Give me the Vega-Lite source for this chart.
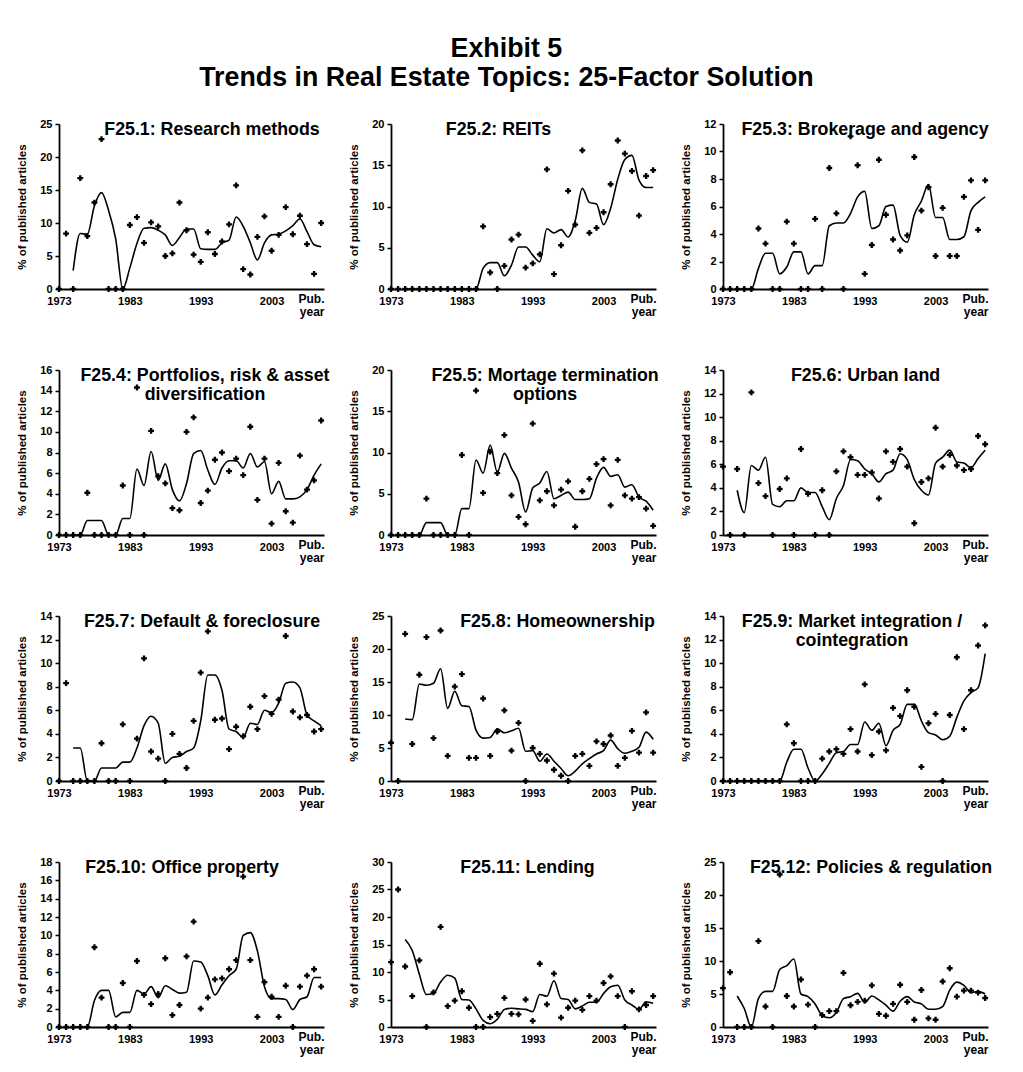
{
"$schema":"https://vega.github.io/schema/vega-lite/v6.json",
"background":"white",
"padding":{"left":16,"top":36,"right":10,"bottom":5},
"title":{"text":["Exhibit 5","Trends in Real Estate Topics: 25-Factor Solution"],"fontSize":26.8,"lineHeight":29,"offset":-1,"baseline":"bottom","anchor":"middle","dx":2},
"columns":3,
"spacing":{"row":81,"column":67},
"bounds":"flush",
"datasets":{"d":[
{"p":1,"yr":1973,"pct":0},{"p":1,"yr":1974,"pct":8.4},{"p":1,"yr":1975,"pct":0,"avg":2.8},{"p":1,"yr":1976,"pct":16.8,"avg":8.4},{"p":1,"yr":1977,"pct":8.0,"avg":8.3},{"p":1,"yr":1978,"pct":13.1,"avg":12.6},{"p":1,"yr":1979,"pct":22.7,"avg":14.6},{"p":1,"yr":1980,"pct":0,"avg":11.9},{"p":1,"yr":1981,"pct":0,"avg":7.6},{"p":1,"yr":1982,"pct":0,"avg":0},{"p":1,"yr":1983,"pct":9.7,"avg":3.2},{"p":1,"yr":1984,"pct":10.9,"avg":6.9},{"p":1,"yr":1985,"pct":7.0,"avg":9.2},{"p":1,"yr":1986,"pct":10.1,"avg":9.3},{"p":1,"yr":1987,"pct":9.5,"avg":8.9},{"p":1,"yr":1988,"pct":5.0,"avg":8.2},{"p":1,"yr":1989,"pct":5.4,"avg":6.6},{"p":1,"yr":1990,"pct":13.1,"avg":7.8},{"p":1,"yr":1991,"pct":8.9,"avg":9.1},{"p":1,"yr":1992,"pct":5.2,"avg":9.1},{"p":1,"yr":1993,"pct":4.1,"avg":6.1},{"p":1,"yr":1994,"pct":8.6,"avg":6.0},{"p":1,"yr":1995,"pct":5.3,"avg":6.0},{"p":1,"yr":1996,"pct":7.2,"avg":7.0},{"p":1,"yr":1997,"pct":9.8,"avg":7.4},{"p":1,"yr":1998,"pct":15.7,"avg":10.9},{"p":1,"yr":1999,"pct":3.0,"avg":9.5},{"p":1,"yr":2000,"pct":2.2,"avg":7.0},{"p":1,"yr":2001,"pct":7.9,"avg":4.4},{"p":1,"yr":2002,"pct":11.0,"avg":7.0},{"p":1,"yr":2003,"pct":5.8,"avg":8.2},{"p":1,"yr":2004,"pct":8.2,"avg":8.3},{"p":1,"yr":2005,"pct":12.4,"avg":8.8},{"p":1,"yr":2006,"pct":8.3,"avg":9.6},{"p":1,"yr":2007,"pct":11.1,"avg":10.6},{"p":1,"yr":2008,"pct":6.8,"avg":8.7},{"p":1,"yr":2009,"pct":2.3,"avg":6.7},{"p":1,"yr":2010,"pct":10.0,"avg":6.4},
{"p":2,"yr":1973,"pct":0},{"p":2,"yr":1974,"pct":0},{"p":2,"yr":1975,"pct":0,"avg":0},{"p":2,"yr":1976,"pct":0,"avg":0},{"p":2,"yr":1977,"pct":0,"avg":0},{"p":2,"yr":1978,"pct":0,"avg":0},{"p":2,"yr":1979,"pct":0,"avg":0},{"p":2,"yr":1980,"pct":0,"avg":0},{"p":2,"yr":1981,"pct":0,"avg":0},{"p":2,"yr":1982,"pct":0,"avg":0},{"p":2,"yr":1983,"pct":0,"avg":0},{"p":2,"yr":1984,"pct":0,"avg":0},{"p":2,"yr":1985,"pct":0,"avg":0},{"p":2,"yr":1986,"pct":7.6,"avg":2.5},{"p":2,"yr":1987,"pct":2.0,"avg":3.2},{"p":2,"yr":1988,"pct":0,"avg":3.2},{"p":2,"yr":1989,"pct":2.8,"avg":1.6},{"p":2,"yr":1990,"pct":6.0,"avg":2.9},{"p":2,"yr":1991,"pct":6.6,"avg":5.1},{"p":2,"yr":1992,"pct":2.6,"avg":5.1},{"p":2,"yr":1993,"pct":3.1,"avg":4.1},{"p":2,"yr":1994,"pct":4.2,"avg":3.3},{"p":2,"yr":1995,"pct":14.5,"avg":7.3},{"p":2,"yr":1996,"pct":1.8,"avg":6.8},{"p":2,"yr":1997,"pct":5.3,"avg":7.2},{"p":2,"yr":1998,"pct":11.9,"avg":6.3},{"p":2,"yr":1999,"pct":7.8,"avg":8.3},{"p":2,"yr":2000,"pct":16.8,"avg":12.2},{"p":2,"yr":2001,"pct":6.8,"avg":10.5},{"p":2,"yr":2002,"pct":7.4,"avg":10.3},{"p":2,"yr":2003,"pct":9.3,"avg":7.8},{"p":2,"yr":2004,"pct":12.7,"avg":9.8},{"p":2,"yr":2005,"pct":18.0,"avg":13.3},{"p":2,"yr":2006,"pct":16.4,"avg":15.7},{"p":2,"yr":2007,"pct":14.3,"avg":16.2},{"p":2,"yr":2008,"pct":8.9,"avg":13.2},{"p":2,"yr":2009,"pct":13.7,"avg":12.3},{"p":2,"yr":2010,"pct":14.4,"avg":12.3},
{"p":3,"yr":1973,"pct":0},{"p":3,"yr":1974,"pct":0},{"p":3,"yr":1975,"pct":0,"avg":0},{"p":3,"yr":1976,"pct":0,"avg":0},{"p":3,"yr":1977,"pct":0,"avg":0},{"p":3,"yr":1978,"pct":4.4,"avg":1.5},{"p":3,"yr":1979,"pct":3.3,"avg":2.6},{"p":3,"yr":1980,"pct":0,"avg":2.6},{"p":3,"yr":1981,"pct":0,"avg":1.1},{"p":3,"yr":1982,"pct":4.9,"avg":1.6},{"p":3,"yr":1983,"pct":3.3,"avg":2.7},{"p":3,"yr":1984,"pct":0,"avg":2.7},{"p":3,"yr":1985,"pct":0,"avg":1.1},{"p":3,"yr":1986,"pct":5.1,"avg":1.7},{"p":3,"yr":1987,"pct":0,"avg":1.7},{"p":3,"yr":1988,"pct":8.8,"avg":4.6},{"p":3,"yr":1989,"pct":5.5,"avg":4.8},{"p":3,"yr":1990,"pct":0,"avg":4.8},{"p":3,"yr":1991,"pct":11.1,"avg":5.5},{"p":3,"yr":1992,"pct":9.0,"avg":6.7},{"p":3,"yr":1993,"pct":1.1,"avg":7.1},{"p":3,"yr":1994,"pct":3.2,"avg":4.4},{"p":3,"yr":1995,"pct":9.4,"avg":4.6},{"p":3,"yr":1996,"pct":5.4,"avg":6.0},{"p":3,"yr":1997,"pct":3.6,"avg":6.1},{"p":3,"yr":1998,"pct":2.8,"avg":3.9},{"p":3,"yr":1999,"pct":3.9,"avg":3.4},{"p":3,"yr":2000,"pct":9.6,"avg":5.4},{"p":3,"yr":2001,"pct":5.7,"avg":6.4},{"p":3,"yr":2002,"pct":7.4,"avg":7.6},{"p":3,"yr":2003,"pct":2.4,"avg":5.2},{"p":3,"yr":2004,"pct":5.9,"avg":5.2},{"p":3,"yr":2005,"pct":2.4,"avg":3.6},{"p":3,"yr":2006,"pct":2.4,"avg":3.6},{"p":3,"yr":2007,"pct":6.7,"avg":3.8},{"p":3,"yr":2008,"pct":7.9,"avg":5.7},{"p":3,"yr":2009,"pct":4.3,"avg":6.3},{"p":3,"yr":2010,"pct":7.9,"avg":6.7},
{"p":4,"yr":1973,"pct":0},{"p":4,"yr":1974,"pct":0},{"p":4,"yr":1975,"pct":0,"avg":0},{"p":4,"yr":1976,"pct":0,"avg":0},{"p":4,"yr":1977,"pct":4.1,"avg":1.4},{"p":4,"yr":1978,"pct":0,"avg":1.4},{"p":4,"yr":1979,"pct":0,"avg":1.4},{"p":4,"yr":1980,"pct":0,"avg":0},{"p":4,"yr":1981,"pct":0,"avg":0},{"p":4,"yr":1982,"pct":4.8,"avg":1.6},{"p":4,"yr":1983,"pct":0,"avg":1.6},{"p":4,"yr":1984,"pct":14.3,"avg":6.4},{"p":4,"yr":1985,"pct":0,"avg":4.8},{"p":4,"yr":1986,"pct":10.1,"avg":8.1},{"p":4,"yr":1987,"pct":5.7,"avg":5.3},{"p":4,"yr":1988,"pct":5.0,"avg":6.9},{"p":4,"yr":1989,"pct":2.6,"avg":4.4},{"p":4,"yr":1990,"pct":2.4,"avg":3.3},{"p":4,"yr":1991,"pct":10.0,"avg":5.0},{"p":4,"yr":1992,"pct":11.4,"avg":7.9},{"p":4,"yr":1993,"pct":3.1,"avg":8.2},{"p":4,"yr":1994,"pct":4.3,"avg":6.3},{"p":4,"yr":1995,"pct":7.3,"avg":4.9},{"p":4,"yr":1996,"pct":8.0,"avg":6.5},{"p":4,"yr":1997,"pct":6.2,"avg":7.2},{"p":4,"yr":1998,"pct":7.4,"avg":7.2},{"p":4,"yr":1999,"pct":5.8,"avg":6.5},{"p":4,"yr":2000,"pct":10.5,"avg":7.9},{"p":4,"yr":2001,"pct":3.4,"avg":6.6},{"p":4,"yr":2002,"pct":7.4,"avg":7.1},{"p":4,"yr":2003,"pct":1.1,"avg":4.0},{"p":4,"yr":2004,"pct":7.0,"avg":5.2},{"p":4,"yr":2005,"pct":2.3,"avg":3.5},{"p":4,"yr":2006,"pct":1.2,"avg":3.5},{"p":4,"yr":2007,"pct":7.7,"avg":3.7},{"p":4,"yr":2008,"pct":4.4,"avg":4.4},{"p":4,"yr":2009,"pct":5.3,"avg":5.8},{"p":4,"yr":2010,"pct":11.1,"avg":6.9},
{"p":5,"yr":1973,"pct":0},{"p":5,"yr":1974,"pct":0},{"p":5,"yr":1975,"pct":0,"avg":0},{"p":5,"yr":1976,"pct":0,"avg":0},{"p":5,"yr":1977,"pct":0,"avg":0},{"p":5,"yr":1978,"pct":4.4,"avg":1.5},{"p":5,"yr":1979,"pct":0,"avg":1.5},{"p":5,"yr":1980,"pct":0,"avg":1.5},{"p":5,"yr":1981,"pct":0,"avg":0},{"p":5,"yr":1982,"pct":0,"avg":0},{"p":5,"yr":1983,"pct":9.7,"avg":3.2},{"p":5,"yr":1984,"pct":0,"avg":3.2},{"p":5,"yr":1985,"pct":17.5,"avg":9.1},{"p":5,"yr":1986,"pct":5.1,"avg":7.5},{"p":5,"yr":1987,"pct":10.1,"avg":10.9},{"p":5,"yr":1988,"pct":7.5,"avg":7.6},{"p":5,"yr":1989,"pct":12.1,"avg":9.9},{"p":5,"yr":1990,"pct":4.8,"avg":8.1},{"p":5,"yr":1991,"pct":2.2,"avg":6.4},{"p":5,"yr":1992,"pct":1.3,"avg":2.8},{"p":5,"yr":1993,"pct":13.5,"avg":5.7},{"p":5,"yr":1994,"pct":4.2,"avg":6.3},{"p":5,"yr":1995,"pct":5.3,"avg":7.7},{"p":5,"yr":1996,"pct":3.6,"avg":4.4},{"p":5,"yr":1997,"pct":5.5,"avg":4.8},{"p":5,"yr":1998,"pct":6.5,"avg":5.2},{"p":5,"yr":1999,"pct":1.0,"avg":4.3},{"p":5,"yr":2000,"pct":5.3,"avg":4.3},{"p":5,"yr":2001,"pct":6.8,"avg":4.4},{"p":5,"yr":2002,"pct":8.6,"avg":6.9},{"p":5,"yr":2003,"pct":9.2,"avg":8.2},{"p":5,"yr":2004,"pct":3.6,"avg":7.1},{"p":5,"yr":2005,"pct":9.1,"avg":7.3},{"p":5,"yr":2006,"pct":4.8,"avg":5.8},{"p":5,"yr":2007,"pct":4.4,"avg":6.1},{"p":5,"yr":2008,"pct":4.6,"avg":4.6},{"p":5,"yr":2009,"pct":3.2,"avg":4.1},{"p":5,"yr":2010,"pct":1.1,"avg":3.0},
{"p":6,"yr":1973,"pct":5.8},{"p":6,"yr":1974,"pct":0},{"p":6,"yr":1975,"pct":5.6,"avg":3.8},{"p":6,"yr":1976,"pct":0,"avg":1.9},{"p":6,"yr":1977,"pct":12.1,"avg":5.9},{"p":6,"yr":1978,"pct":4.4,"avg":5.5},{"p":6,"yr":1979,"pct":3.3,"avg":6.6},{"p":6,"yr":1980,"pct":0,"avg":2.6},{"p":6,"yr":1981,"pct":3.9,"avg":2.4},{"p":6,"yr":1982,"pct":4.8,"avg":2.9},{"p":6,"yr":1983,"pct":0,"avg":2.9},{"p":6,"yr":1984,"pct":7.3,"avg":4.0},{"p":6,"yr":1985,"pct":3.5,"avg":3.6},{"p":6,"yr":1986,"pct":0,"avg":3.6},{"p":6,"yr":1987,"pct":3.8,"avg":2.4},{"p":6,"yr":1988,"pct":0,"avg":1.3},{"p":6,"yr":1989,"pct":5.4,"avg":3.1},{"p":6,"yr":1990,"pct":7.1,"avg":4.2},{"p":6,"yr":1991,"pct":6.6,"avg":6.4},{"p":6,"yr":1992,"pct":5.1,"avg":6.3},{"p":6,"yr":1993,"pct":5.1,"avg":5.6},{"p":6,"yr":1994,"pct":5.3,"avg":5.2},{"p":6,"yr":1995,"pct":3.1,"avg":4.5},{"p":6,"yr":1996,"pct":7.1,"avg":5.2},{"p":6,"yr":1997,"pct":6.2,"avg":5.5},{"p":6,"yr":1998,"pct":7.3,"avg":6.9},{"p":6,"yr":1999,"pct":5.8,"avg":6.4},{"p":6,"yr":2000,"pct":1.0,"avg":4.7},{"p":6,"yr":2001,"pct":4.5,"avg":3.8},{"p":6,"yr":2002,"pct":4.8,"avg":3.4},{"p":6,"yr":2003,"pct":9.1,"avg":6.1},{"p":6,"yr":2004,"pct":5.8,"avg":6.6},{"p":6,"yr":2005,"pct":6.8,"avg":7.2},{"p":6,"yr":2006,"pct":5.9,"avg":6.2},{"p":6,"yr":2007,"pct":5.5,"avg":6.1},{"p":6,"yr":2008,"pct":5.6,"avg":5.7},{"p":6,"yr":2009,"pct":8.4,"avg":6.5},{"p":6,"yr":2010,"pct":7.7,"avg":7.2},
{"p":7,"yr":1973,"pct":0},{"p":7,"yr":1974,"pct":8.3},{"p":7,"yr":1975,"pct":0,"avg":2.8},{"p":7,"yr":1976,"pct":0,"avg":2.8},{"p":7,"yr":1977,"pct":0,"avg":0},{"p":7,"yr":1978,"pct":0,"avg":0},{"p":7,"yr":1979,"pct":3.2,"avg":1.1},{"p":7,"yr":1980,"pct":0,"avg":1.1},{"p":7,"yr":1981,"pct":0,"avg":1.1},{"p":7,"yr":1982,"pct":4.8,"avg":1.6},{"p":7,"yr":1983,"pct":0,"avg":1.6},{"p":7,"yr":1984,"pct":3.6,"avg":2.8},{"p":7,"yr":1985,"pct":10.4,"avg":4.7},{"p":7,"yr":1986,"pct":2.5,"avg":5.5},{"p":7,"yr":1987,"pct":1.9,"avg":4.9},{"p":7,"yr":1988,"pct":0,"avg":1.5},{"p":7,"yr":1989,"pct":4.0,"avg":2.0},{"p":7,"yr":1990,"pct":2.3,"avg":2.1},{"p":7,"yr":1991,"pct":1.1,"avg":2.5},{"p":7,"yr":1992,"pct":5.1,"avg":2.8},{"p":7,"yr":1993,"pct":9.2,"avg":5.1},{"p":7,"yr":1994,"pct":12.7,"avg":9.0},{"p":7,"yr":1995,"pct":5.2,"avg":9.0},{"p":7,"yr":1996,"pct":5.3,"avg":7.7},{"p":7,"yr":1997,"pct":2.7,"avg":4.4},{"p":7,"yr":1998,"pct":4.6,"avg":4.2},{"p":7,"yr":1999,"pct":3.8,"avg":3.7},{"p":7,"yr":2000,"pct":6.3,"avg":4.9},{"p":7,"yr":2001,"pct":4.4,"avg":4.8},{"p":7,"yr":2002,"pct":7.2,"avg":6.0},{"p":7,"yr":2003,"pct":5.7,"avg":5.8},{"p":7,"yr":2004,"pct":6.9,"avg":6.6},{"p":7,"yr":2005,"pct":12.3,"avg":8.3},{"p":7,"yr":2006,"pct":5.9,"avg":8.4},{"p":7,"yr":2007,"pct":5.4,"avg":7.9},{"p":7,"yr":2008,"pct":5.6,"avg":5.6},{"p":7,"yr":2009,"pct":4.2,"avg":5.1},{"p":7,"yr":2010,"pct":4.4,"avg":4.7},
{"p":8,"yr":1973,"pct":5.8},{"p":8,"yr":1974,"pct":0},{"p":8,"yr":1975,"pct":22.3,"avg":9.4},{"p":8,"yr":1976,"pct":5.6,"avg":9.3},{"p":8,"yr":1977,"pct":16.1,"avg":14.7},{"p":8,"yr":1978,"pct":21.8,"avg":14.5},{"p":8,"yr":1979,"pct":6.5,"avg":14.8},{"p":8,"yr":1980,"pct":22.8,"avg":17.0},{"p":8,"yr":1981,"pct":3.8,"avg":11.0},{"p":8,"yr":1982,"pct":14.3,"avg":13.6},{"p":8,"yr":1983,"pct":16.2,"avg":11.4},{"p":8,"yr":1984,"pct":3.5,"avg":11.3},{"p":8,"yr":1985,"pct":3.5,"avg":7.7},{"p":8,"yr":1986,"pct":12.5,"avg":6.5},{"p":8,"yr":1987,"pct":3.8,"avg":6.6},{"p":8,"yr":1988,"pct":7.5,"avg":7.9},{"p":8,"yr":1989,"pct":10.7,"avg":7.3},{"p":8,"yr":1990,"pct":4.6,"avg":7.6},{"p":8,"yr":1991,"pct":8.8,"avg":8.0},{"p":8,"yr":1992,"pct":0,"avg":4.5},{"p":8,"yr":1993,"pct":5.0,"avg":4.6},{"p":8,"yr":1994,"pct":4.1,"avg":3.0},{"p":8,"yr":1995,"pct":3.1,"avg":4.1},{"p":8,"yr":1996,"pct":1.7,"avg":3.0},{"p":8,"yr":1997,"pct":0.8,"avg":1.9},{"p":8,"yr":1998,"pct":0,"avg":0.8},{"p":8,"yr":1999,"pct":3.8,"avg":1.5},{"p":8,"yr":2000,"pct":4.1,"avg":2.6},{"p":8,"yr":2001,"pct":2.3,"avg":3.4},{"p":8,"yr":2002,"pct":6.0,"avg":4.1},{"p":8,"yr":2003,"pct":5.6,"avg":4.6},{"p":8,"yr":2004,"pct":6.9,"avg":6.2},{"p":8,"yr":2005,"pct":2.3,"avg":4.9},{"p":8,"yr":2006,"pct":3.5,"avg":4.2},{"p":8,"yr":2007,"pct":7.6,"avg":4.5},{"p":8,"yr":2008,"pct":4.3,"avg":5.1},{"p":8,"yr":2009,"pct":10.4,"avg":7.4},{"p":8,"yr":2010,"pct":4.3,"avg":6.3},
{"p":9,"yr":1973,"pct":0},{"p":9,"yr":1974,"pct":0},{"p":9,"yr":1975,"pct":0,"avg":0},{"p":9,"yr":1976,"pct":0,"avg":0},{"p":9,"yr":1977,"pct":0,"avg":0},{"p":9,"yr":1978,"pct":0,"avg":0},{"p":9,"yr":1979,"pct":0,"avg":0},{"p":9,"yr":1980,"pct":0,"avg":0},{"p":9,"yr":1981,"pct":0,"avg":0},{"p":9,"yr":1982,"pct":4.8,"avg":1.6},{"p":9,"yr":1983,"pct":3.2,"avg":2.7},{"p":9,"yr":1984,"pct":0,"avg":2.7},{"p":9,"yr":1985,"pct":0,"avg":1.1},{"p":9,"yr":1986,"pct":0,"avg":0},{"p":9,"yr":1987,"pct":1.9,"avg":0.6},{"p":9,"yr":1988,"pct":2.5,"avg":1.5},{"p":9,"yr":1989,"pct":2.7,"avg":2.4},{"p":9,"yr":1990,"pct":2.3,"avg":2.5},{"p":9,"yr":1991,"pct":4.4,"avg":3.1},{"p":9,"yr":1992,"pct":2.5,"avg":3.1},{"p":9,"yr":1993,"pct":8.2,"avg":5.0},{"p":9,"yr":1994,"pct":2.2,"avg":4.3},{"p":9,"yr":1995,"pct":4.2,"avg":4.9},{"p":9,"yr":1996,"pct":2.6,"avg":3.0},{"p":9,"yr":1997,"pct":6.2,"avg":4.3},{"p":9,"yr":1998,"pct":5.5,"avg":4.8},{"p":9,"yr":1999,"pct":7.7,"avg":6.5},{"p":9,"yr":2000,"pct":6.3,"avg":6.5},{"p":9,"yr":2001,"pct":1.2,"avg":5.1},{"p":9,"yr":2002,"pct":4.9,"avg":4.1},{"p":9,"yr":2003,"pct":5.7,"avg":3.9},{"p":9,"yr":2004,"pct":0,"avg":3.5},{"p":9,"yr":2005,"pct":5.6,"avg":3.8},{"p":9,"yr":2006,"pct":10.5,"avg":5.4},{"p":9,"yr":2007,"pct":4.4,"avg":6.8},{"p":9,"yr":2008,"pct":7.7,"avg":7.5},{"p":9,"yr":2009,"pct":11.5,"avg":7.9},{"p":9,"yr":2010,"pct":13.2,"avg":10.8},
{"p":10,"yr":1973,"pct":0},{"p":10,"yr":1974,"pct":0},{"p":10,"yr":1975,"pct":0,"avg":0},{"p":10,"yr":1976,"pct":0,"avg":0},{"p":10,"yr":1977,"pct":0,"avg":0},{"p":10,"yr":1978,"pct":8.7,"avg":2.9},{"p":10,"yr":1979,"pct":3.2,"avg":4.0},{"p":10,"yr":1980,"pct":0,"avg":4.0},{"p":10,"yr":1981,"pct":0,"avg":1.1},{"p":10,"yr":1982,"pct":4.8,"avg":1.6},{"p":10,"yr":1983,"pct":0,"avg":1.6},{"p":10,"yr":1984,"pct":7.2,"avg":4.0},{"p":10,"yr":1985,"pct":3.5,"avg":3.6},{"p":10,"yr":1986,"pct":2.5,"avg":4.4},{"p":10,"yr":1987,"pct":3.6,"avg":3.2},{"p":10,"yr":1988,"pct":7.5,"avg":4.5},{"p":10,"yr":1989,"pct":1.3,"avg":4.1},{"p":10,"yr":1990,"pct":2.4,"avg":3.7},{"p":10,"yr":1991,"pct":7.7,"avg":3.8},{"p":10,"yr":1992,"pct":11.5,"avg":7.2},{"p":10,"yr":1993,"pct":2.0,"avg":7.1},{"p":10,"yr":1994,"pct":3.2,"avg":5.6},{"p":10,"yr":1995,"pct":5.2,"avg":3.5},{"p":10,"yr":1996,"pct":5.3,"avg":4.6},{"p":10,"yr":1997,"pct":6.3,"avg":5.6},{"p":10,"yr":1998,"pct":7.3,"avg":6.3},{"p":10,"yr":1999,"pct":16.4,"avg":10.0},{"p":10,"yr":2000,"pct":7.3,"avg":10.3},{"p":10,"yr":2001,"pct":1.1,"avg":8.3},{"p":10,"yr":2002,"pct":4.9,"avg":4.4},{"p":10,"yr":2003,"pct":3.3,"avg":3.1},{"p":10,"yr":2004,"pct":1.1,"avg":3.1},{"p":10,"yr":2005,"pct":4.5,"avg":3.0},{"p":10,"yr":2006,"pct":0,"avg":1.9},{"p":10,"yr":2007,"pct":4.4,"avg":3.0},{"p":10,"yr":2008,"pct":5.6,"avg":3.3},{"p":10,"yr":2009,"pct":6.3,"avg":5.4},{"p":10,"yr":2010,"pct":4.4,"avg":5.4},
{"p":11,"yr":1973,"pct":11.8},{"p":11,"yr":1974,"pct":25.0},{"p":11,"yr":1975,"pct":11.0,"avg":15.9},{"p":11,"yr":1976,"pct":5.6,"avg":13.9},{"p":11,"yr":1977,"pct":12.1,"avg":9.6},{"p":11,"yr":1978,"pct":0,"avg":5.9},{"p":11,"yr":1979,"pct":6.3,"avg":6.1},{"p":11,"yr":1980,"pct":18.2,"avg":8.2},{"p":11,"yr":1981,"pct":3.8,"avg":9.4},{"p":11,"yr":1982,"pct":4.8,"avg":8.9},{"p":11,"yr":1983,"pct":6.5,"avg":5.0},{"p":11,"yr":1984,"pct":3.5,"avg":4.9},{"p":11,"yr":1985,"pct":0,"avg":3.3},{"p":11,"yr":1986,"pct":0,"avg":1.2},{"p":11,"yr":1987,"pct":1.8,"avg":0.6},{"p":11,"yr":1988,"pct":2.4,"avg":1.4},{"p":11,"yr":1989,"pct":5.3,"avg":3.2},{"p":11,"yr":1990,"pct":2.4,"avg":3.4},{"p":11,"yr":1991,"pct":2.3,"avg":3.3},{"p":11,"yr":1992,"pct":5.0,"avg":3.2},{"p":11,"yr":1993,"pct":1.1,"avg":2.8},{"p":11,"yr":1994,"pct":11.5,"avg":5.9},{"p":11,"yr":1995,"pct":4.1,"avg":5.6},{"p":11,"yr":1996,"pct":9.7,"avg":8.4},{"p":11,"yr":1997,"pct":1.7,"avg":5.2},{"p":11,"yr":1998,"pct":3.5,"avg":5.0},{"p":11,"yr":1999,"pct":4.8,"avg":3.3},{"p":11,"yr":2000,"pct":3.1,"avg":3.8},{"p":11,"yr":2001,"pct":5.6,"avg":4.5},{"p":11,"yr":2002,"pct":4.8,"avg":4.5},{"p":11,"yr":2003,"pct":8.0,"avg":6.1},{"p":11,"yr":2004,"pct":9.2,"avg":7.3},{"p":11,"yr":2005,"pct":5.6,"avg":7.6},{"p":11,"yr":2006,"pct":0,"avg":4.9},{"p":11,"yr":2007,"pct":6.5,"avg":4.0},{"p":11,"yr":2008,"pct":3.2,"avg":3.2},{"p":11,"yr":2009,"pct":4.0,"avg":4.6},{"p":11,"yr":2010,"pct":5.6,"avg":4.3},
{"p":12,"yr":1973,"pct":5.9},{"p":12,"yr":1974,"pct":8.3},{"p":12,"yr":1975,"pct":0,"avg":4.7},{"p":12,"yr":1976,"pct":0,"avg":2.8},{"p":12,"yr":1977,"pct":0,"avg":0},{"p":12,"yr":1978,"pct":13.0,"avg":4.3},{"p":12,"yr":1979,"pct":3.1,"avg":5.4},{"p":12,"yr":1980,"pct":0,"avg":5.4},{"p":12,"yr":1981,"pct":23.1,"avg":8.7},{"p":12,"yr":1982,"pct":4.7,"avg":9.3},{"p":12,"yr":1983,"pct":3.1,"avg":10.3},{"p":12,"yr":1984,"pct":7.2,"avg":5.0},{"p":12,"yr":1985,"pct":3.4,"avg":4.6},{"p":12,"yr":1986,"pct":0,"avg":3.5},{"p":12,"yr":1987,"pct":1.8,"avg":1.7},{"p":12,"yr":1988,"pct":2.4,"avg":1.4},{"p":12,"yr":1989,"pct":2.4,"avg":2.2},{"p":12,"yr":1990,"pct":8.2,"avg":4.3},{"p":12,"yr":1991,"pct":3.3,"avg":4.6},{"p":12,"yr":1992,"pct":3.8,"avg":5.1},{"p":12,"yr":1993,"pct":4.0,"avg":3.7},{"p":12,"yr":1994,"pct":6.3,"avg":4.7},{"p":12,"yr":1995,"pct":2.0,"avg":4.1},{"p":12,"yr":1996,"pct":1.7,"avg":3.3},{"p":12,"yr":1997,"pct":3.5,"avg":2.4},{"p":12,"yr":1998,"pct":6.4,"avg":3.9},{"p":12,"yr":1999,"pct":3.8,"avg":4.6},{"p":12,"yr":2000,"pct":1.1,"avg":3.8},{"p":12,"yr":2001,"pct":5.6,"avg":3.5},{"p":12,"yr":2002,"pct":1.3,"avg":2.7},{"p":12,"yr":2003,"pct":1.1,"avg":2.7},{"p":12,"yr":2004,"pct":6.9,"avg":3.1},{"p":12,"yr":2005,"pct":8.9,"avg":5.6},{"p":12,"yr":2006,"pct":4.6,"avg":6.8},{"p":12,"yr":2007,"pct":5.5,"avg":6.3},{"p":12,"yr":2008,"pct":5.5,"avg":5.2},{"p":12,"yr":2009,"pct":5.2,"avg":5.4},{"p":12,"yr":2010,"pct":4.4,"avg":5.0}
]},
"concat":[
{"title":{"text":"F25.1: Research methods","dx":20.5},"width":265,"height":165,"data":{"name":"d"},"transform":[{"filter":"datum.p==1"}],
 "encoding":{"x":{"field":"yr","type":"quantitative","scale":{"domain":[1973,2010.4]},"title":["Pub.","year"],"axis":{"values":[1973,1983,1993,2003],"format":"d"}}},
 "layer":[
  {"mark":{"type":"point","shape":"cross","filled":true,"size":34,"color":"#000","opacity":1},"encoding":{"y":{"field":"pct","type":"quantitative","title":"% of published articles","scale":{"domain":[0,25],"nice":false},"axis":{"values":[0,5,10,15,20,25]}}}},
  {"mark":{"type":"line","color":"#000","strokeWidth":1.6,"interpolate":"monotone"},"transform":[{"filter":"isValid(datum.avg)"}],"encoding":{"y":{"field":"avg","type":"quantitative","title":"% of published articles","scale":{"domain":[0,25],"nice":false},"axis":{"values":[0,5,10,15,20,25]}}}}]},
{"title":{"text":"F25.2: REITs","dx":-25},"width":265,"height":165,"data":{"name":"d"},"transform":[{"filter":"datum.p==2"}],
 "encoding":{"x":{"field":"yr","type":"quantitative","scale":{"domain":[1973,2010.4]},"title":["Pub.","year"],"axis":{"values":[1973,1983,1993,2003],"format":"d"}}},
 "layer":[
  {"mark":{"type":"point","shape":"cross","filled":true,"size":34,"color":"#000","opacity":1},"encoding":{"y":{"field":"pct","type":"quantitative","title":"% of published articles","scale":{"domain":[0,20],"nice":false},"axis":{"values":[0,5,10,15,20]}}}},
  {"mark":{"type":"line","color":"#000","strokeWidth":1.6,"interpolate":"monotone"},"transform":[{"filter":"isValid(datum.avg)"}],"encoding":{"y":{"field":"avg","type":"quantitative","title":"% of published articles","scale":{"domain":[0,20],"nice":false},"axis":{"values":[0,5,10,15,20]}}}}]},
{"title":{"text":"F25.3: Brokerage and agency","dx":9.5},"width":265,"height":165,"data":{"name":"d"},"transform":[{"filter":"datum.p==3"}],
 "encoding":{"x":{"field":"yr","type":"quantitative","scale":{"domain":[1973,2010.4]},"title":["Pub.","year"],"axis":{"values":[1973,1983,1993,2003],"format":"d"}}},
 "layer":[
  {"mark":{"type":"point","shape":"cross","filled":true,"size":34,"color":"#000","opacity":1},"encoding":{"y":{"field":"pct","type":"quantitative","title":"% of published articles","scale":{"domain":[0,12],"nice":false},"axis":{"values":[0,2,4,6,8,10,12]}}}},
  {"mark":{"type":"line","color":"#000","strokeWidth":1.6,"interpolate":"monotone"},"transform":[{"filter":"isValid(datum.avg)"}],"encoding":{"y":{"field":"avg","type":"quantitative","title":"% of published articles","scale":{"domain":[0,12],"nice":false},"axis":{"values":[0,2,4,6,8,10,12]}}}}]},
{"title":{"text":["F25.4: Portfolios, risk & asset","diversification"],"dx":13.5,"dy":18.5},"width":265,"height":165,"data":{"name":"d"},"transform":[{"filter":"datum.p==4"}],
 "encoding":{"x":{"field":"yr","type":"quantitative","scale":{"domain":[1973,2010.4]},"title":["Pub.","year"],"axis":{"values":[1973,1983,1993,2003],"format":"d"}}},
 "layer":[
  {"mark":{"type":"point","shape":"cross","filled":true,"size":34,"color":"#000","opacity":1},"encoding":{"y":{"field":"pct","type":"quantitative","title":"% of published articles","scale":{"domain":[0,16],"nice":false},"axis":{"values":[0,2,4,6,8,10,12,14,16]}}}},
  {"mark":{"type":"line","color":"#000","strokeWidth":1.6,"interpolate":"monotone"},"transform":[{"filter":"isValid(datum.avg)"}],"encoding":{"y":{"field":"avg","type":"quantitative","title":"% of published articles","scale":{"domain":[0,16],"nice":false},"axis":{"values":[0,2,4,6,8,10,12,14,16]}}}}]},
{"title":{"text":["F25.5: Mortage termination","options"],"dx":21.5,"dy":18.5},"width":265,"height":165,"data":{"name":"d"},"transform":[{"filter":"datum.p==5"}],
 "encoding":{"x":{"field":"yr","type":"quantitative","scale":{"domain":[1973,2010.4]},"title":["Pub.","year"],"axis":{"values":[1973,1983,1993,2003],"format":"d"}}},
 "layer":[
  {"mark":{"type":"point","shape":"cross","filled":true,"size":34,"color":"#000","opacity":1},"encoding":{"y":{"field":"pct","type":"quantitative","title":"% of published articles","scale":{"domain":[0,20],"nice":false},"axis":{"values":[0,5,10,15,20]}}}},
  {"mark":{"type":"line","color":"#000","strokeWidth":1.6,"interpolate":"monotone"},"transform":[{"filter":"isValid(datum.avg)"}],"encoding":{"y":{"field":"avg","type":"quantitative","title":"% of published articles","scale":{"domain":[0,20],"nice":false},"axis":{"values":[0,5,10,15,20]}}}}]},
{"title":{"text":"F25.6: Urban land","dx":10},"width":265,"height":165,"data":{"name":"d"},"transform":[{"filter":"datum.p==6"}],
 "encoding":{"x":{"field":"yr","type":"quantitative","scale":{"domain":[1973,2010.4]},"title":["Pub.","year"],"axis":{"values":[1973,1983,1993,2003],"format":"d"}}},
 "layer":[
  {"mark":{"type":"point","shape":"cross","filled":true,"size":34,"color":"#000","opacity":1},"encoding":{"y":{"field":"pct","type":"quantitative","title":"% of published articles","scale":{"domain":[0,14],"nice":false},"axis":{"values":[0,2,4,6,8,10,12,14]}}}},
  {"mark":{"type":"line","color":"#000","strokeWidth":1.6,"interpolate":"monotone"},"transform":[{"filter":"isValid(datum.avg)"}],"encoding":{"y":{"field":"avg","type":"quantitative","title":"% of published articles","scale":{"domain":[0,14],"nice":false},"axis":{"values":[0,2,4,6,8,10,12,14]}}}}]},
{"title":{"text":"F25.7: Default & foreclosure","dx":10.5},"width":265,"height":165,"data":{"name":"d"},"transform":[{"filter":"datum.p==7"}],
 "encoding":{"x":{"field":"yr","type":"quantitative","scale":{"domain":[1973,2010.4]},"title":["Pub.","year"],"axis":{"values":[1973,1983,1993,2003],"format":"d"}}},
 "layer":[
  {"mark":{"type":"point","shape":"cross","filled":true,"size":34,"color":"#000","opacity":1},"encoding":{"y":{"field":"pct","type":"quantitative","title":"% of published articles","scale":{"domain":[0,14],"nice":false},"axis":{"values":[0,2,4,6,8,10,12,14]}}}},
  {"mark":{"type":"line","color":"#000","strokeWidth":1.6,"interpolate":"monotone"},"transform":[{"filter":"isValid(datum.avg)"}],"encoding":{"y":{"field":"avg","type":"quantitative","title":"% of published articles","scale":{"domain":[0,14],"nice":false},"axis":{"values":[0,2,4,6,8,10,12,14]}}}}]},
{"title":{"text":"F25.8: Homeownership","dx":34},"width":265,"height":165,"data":{"name":"d"},"transform":[{"filter":"datum.p==8"}],
 "encoding":{"x":{"field":"yr","type":"quantitative","scale":{"domain":[1973,2010.4]},"title":["Pub.","year"],"axis":{"values":[1973,1983,1993,2003],"format":"d"}}},
 "layer":[
  {"mark":{"type":"point","shape":"cross","filled":true,"size":34,"color":"#000","opacity":1},"encoding":{"y":{"field":"pct","type":"quantitative","title":"% of published articles","scale":{"domain":[0,25],"nice":false},"axis":{"values":[0,5,10,15,20,25]}}}},
  {"mark":{"type":"line","color":"#000","strokeWidth":1.6,"interpolate":"monotone"},"transform":[{"filter":"isValid(datum.avg)"}],"encoding":{"y":{"field":"avg","type":"quantitative","title":"% of published articles","scale":{"domain":[0,25],"nice":false},"axis":{"values":[0,5,10,15,20,25]}}}}]},
{"title":{"text":["F25.9: Market integration /","cointegration"],"dx":-3.5,"dy":18.5},"width":265,"height":165,"data":{"name":"d"},"transform":[{"filter":"datum.p==9"}],
 "encoding":{"x":{"field":"yr","type":"quantitative","scale":{"domain":[1973,2010.4]},"title":["Pub.","year"],"axis":{"values":[1973,1983,1993,2003],"format":"d"}}},
 "layer":[
  {"mark":{"type":"point","shape":"cross","filled":true,"size":34,"color":"#000","opacity":1},"encoding":{"y":{"field":"pct","type":"quantitative","title":"% of published articles","scale":{"domain":[0,14],"nice":false},"axis":{"values":[0,2,4,6,8,10,12,14]}}}},
  {"mark":{"type":"line","color":"#000","strokeWidth":1.6,"interpolate":"monotone"},"transform":[{"filter":"isValid(datum.avg)"}],"encoding":{"y":{"field":"avg","type":"quantitative","title":"% of published articles","scale":{"domain":[0,14],"nice":false},"axis":{"values":[0,2,4,6,8,10,12,14]}}}}]},
{"title":{"text":"F25.10: Office property","dx":-9.5},"width":265,"height":165,"data":{"name":"d"},"transform":[{"filter":"datum.p==10"}],
 "encoding":{"x":{"field":"yr","type":"quantitative","scale":{"domain":[1973,2010.4]},"title":["Pub.","year"],"axis":{"values":[1973,1983,1993,2003],"format":"d"}}},
 "layer":[
  {"mark":{"type":"point","shape":"cross","filled":true,"size":34,"color":"#000","opacity":1},"encoding":{"y":{"field":"pct","type":"quantitative","title":"% of published articles","scale":{"domain":[0,18],"nice":false},"axis":{"values":[0,2,4,6,8,10,12,14,16,18]}}}},
  {"mark":{"type":"line","color":"#000","strokeWidth":1.6,"interpolate":"monotone"},"transform":[{"filter":"isValid(datum.avg)"}],"encoding":{"y":{"field":"avg","type":"quantitative","title":"% of published articles","scale":{"domain":[0,18],"nice":false},"axis":{"values":[0,2,4,6,8,10,12,14,16,18]}}}}]},
{"title":{"text":"F25.11: Lending","dx":4},"width":265,"height":165,"data":{"name":"d"},"transform":[{"filter":"datum.p==11"}],
 "encoding":{"x":{"field":"yr","type":"quantitative","scale":{"domain":[1973,2010.4]},"title":["Pub.","year"],"axis":{"values":[1973,1983,1993,2003],"format":"d"}}},
 "layer":[
  {"mark":{"type":"point","shape":"cross","filled":true,"size":34,"color":"#000","opacity":1},"encoding":{"y":{"field":"pct","type":"quantitative","title":"% of published articles","scale":{"domain":[0,30],"nice":false},"axis":{"values":[0,5,10,15,20,25,30]}}}},
  {"mark":{"type":"line","color":"#000","strokeWidth":1.6,"interpolate":"monotone"},"transform":[{"filter":"isValid(datum.avg)"}],"encoding":{"y":{"field":"avg","type":"quantitative","title":"% of published articles","scale":{"domain":[0,30],"nice":false},"axis":{"values":[0,5,10,15,20,25,30]}}}}]},
{"title":{"text":"F25.12: Policies & regulation","dx":15.5},"width":265,"height":165,"data":{"name":"d"},"transform":[{"filter":"datum.p==12"}],
 "encoding":{"x":{"field":"yr","type":"quantitative","scale":{"domain":[1973,2010.4]},"title":["Pub.","year"],"axis":{"values":[1973,1983,1993,2003],"format":"d"}}},
 "layer":[
  {"mark":{"type":"point","shape":"cross","filled":true,"size":34,"color":"#000","opacity":1},"encoding":{"y":{"field":"pct","type":"quantitative","title":"% of published articles","scale":{"domain":[0,25],"nice":false},"axis":{"values":[0,5,10,15,20,25]}}}},
  {"mark":{"type":"line","color":"#000","strokeWidth":1.6,"interpolate":"monotone"},"transform":[{"filter":"isValid(datum.avg)"}],"encoding":{"y":{"field":"avg","type":"quantitative","title":"% of published articles","scale":{"domain":[0,25],"nice":false},"axis":{"values":[0,5,10,15,20,25]}}}}]}
],
"config":{
 "font":"Liberation Sans",
 "view":{"stroke":null},
 "axis":{"domainColor":"#000","domainWidth":1.8,"tickColor":"#000","labelColor":"#000","titleColor":"#000","labelFont":"Liberation Sans","labelFontWeight":"bold","labelFontSize":11,"grid":false,"titleFont":"Liberation Sans","titleFontWeight":"bold"},
 "axisY":{"tickSize":4,"tickWidth":1.5,"labelPadding":3,"titleFontSize":11.5,"titlePadding":12},
 "axisX":{"ticks":false,"labelPadding":6,"labelFlush":false,"labelOverlap":false,"titleFontSize":12,"titleAlign":"right","titleAnchor":"end","titleX":265,"titleY":4,"titleBaseline":"top","titleLineHeight":13.5},
 "title":{"font":"Liberation Sans","fontWeight":"bold","fontSize":17.8,"color":"#000","anchor":"middle","offset":-21,"baseline":"alphabetic","lineHeight":18.5}
}
}
